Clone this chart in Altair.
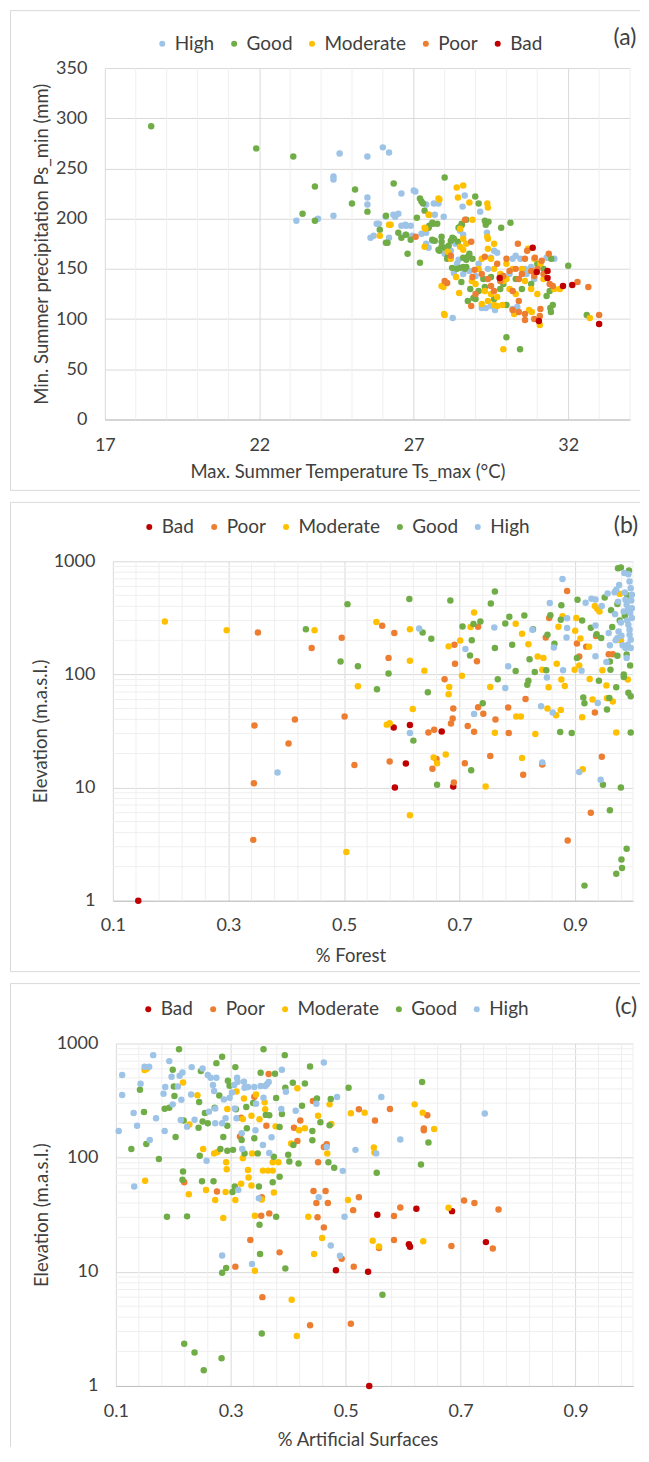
import altair as alt
import pandas as pd

# ---------------- data ----------------
A_ORDER = ["High", "Good", "Moderate", "Poor", "Bad"]
BC_ORDER = ["Bad", "Poor", "Moderate", "Good", "High"]
COLORS = {"High": "#9DC3E6", "Good": "#70AD47", "Moderate": "#FFC000",
          "Poor": "#ED7D31", "Bad": "#C00000"}

# panel (a): Ts_max (°C), Ps_min (mm)
A_HIGH = [(23.2,198),(23.9,200),(24.4,242),(24.4,239),(24.4,203),(24.6,265),(25.5,262),(25.5,221),(25.5,214),(25.6,181),(25.7,183),(25.8,195),(26.0,271),(26.2,266),(26.2,181),(26.6,225),(26.4,202),(26.5,205),(26.6,193),(26.75,193),(26.9,193),(27.0,228),(27.05,227),(28.65,223),(27.4,214),(27.65,215),(27.8,215),(28.58,212),(29.15,207),(27.68,204),(27.97,202),(26.09,202),(26.34,204),(25.87,195),(26.73,194),(28.5,188),(28.6,184),(29.37,186),(26.73,184),(26.95,183),(27.25,185),(27.4,186),(27.4,175),(27.48,171),(27.6,178),(28.0,165),(28.2,168),(28.35,175),(28.22,178),(28.45,159),(28.4,155),(28.3,146),(28.6,145),(28.8,148),(29.2,111),(29.33,111),(29.63,109),(29.5,113),(28.26,101),(31.55,160),(31.3,161),(30.3,163),(30.45,160),(30.2,160),(30.6,150),(30.65,145),(29.6,168),(29.7,166),(29.5,161),(29.4,150),(29.1,155),(29.0,143),(30.1,145),(30.9,140),(30.8,152),(30.2,110),(30.35,112)]
A_GOOD = [(18.5,292),(21.9,270),(23.1,262),(23.4,205),(23.8,232),(23.8,198),(25.0,215),(25.1,229),(25.5,207),(25.9,189),(26.1,203),(26.1,176),(26.35,235),(26.5,186),(26.6,181),(26.75,184),(26.8,165),(26.9,179),(27.1,201),(27.2,220),(27.25,217),(27.3,215),(27.2,156),(27.35,208),(27.5,193),(27.6,196),(27.6,179),(27.8,169),(27.9,172),(28.0,241),(28.1,162),(28.12,165),(28.2,178),(28.25,181),(28.5,192),(28.55,195),(28.6,152),(28.7,152),(28.0,171),(28.13,173),(28.3,180),(28.43,177),(28.45,191),(28.56,194),(28.7,199),(28.99,222),(29.1,215),(29.3,198),(29.33,194),(29.42,197),(29.83,191),(30.13,196),(26.15,176),(27.68,178),(27.9,182),(27.9,177),(27.76,195),(27.63,195),(27.48,191),(27.83,168),(28.75,162),(28.7,159),(28.6,161),(28.08,160),(28.24,151),(28.4,150),(28.5,151),(28.66,150),(28.54,137),(28.83,130),(28.75,118),(28.93,121),(30.0,114),(30.0,82),(30.44,70),(31.44,107),(31.42,111),(31.5,114),(32.0,153),(32.6,104),(29.9,135),(29.8,130),(29.5,142),(29.3,132),(29.1,128),(30.3,140),(30.5,130),(30.8,135),(31.0,155),(31.2,150),(31.4,128),(31.3,123),(31.45,160),(29.6,120),(29.0,120),(29.25,140),(28.9,160),(28.8,165)]
A_MOD = [(25.9,183),(26.2,194),(26.25,194),(27.35,191),(27.35,172),(27.5,204),(27.8,220),(27.9,133),(28.0,104),(28.39,231),(28.6,233),(28.43,221),(28.8,216),(29.38,215),(29.4,211),(27.48,204),(27.83,219),(27.38,190),(28.1,167),(28.2,160),(28.5,172),(28.6,169),(29.38,182),(29.4,180),(28.37,142),(27.96,132),(28.47,126),(28.88,138),(29.0,135),(29.6,114),(29.7,113),(29.87,114),(30.25,105),(30.73,109),(30.82,107),(31.08,94),(29.9,70),(27.98,105),(31.73,130),(32.7,101),(28.9,199),(29.4,170),(29.5,160),(29.2,160),(29.1,150),(29.6,150),(29.8,145),(29.9,138),(29.3,128),(29.5,125),(29.7,122),(29.4,118),(29.2,115),(30.0,140),(30.1,130),(30.3,125),(30.2,150),(30.5,150),(30.7,170),(30.9,160),(30.6,138),(30.8,130),(31.0,125),(31.2,140),(31.1,155),(28.7,175),(28.6,180),(28.5,190),(29.6,175),(30.0,155),(31.55,130)]
A_POOR = [(27.06,182),(28.66,199),(28.2,163),(28.86,177),(28.97,149),(28.0,138),(28.08,136),(28.86,113),(30.2,109),(30.4,107),(30.6,99),(31.08,103),(30.37,175),(30.67,168),(30.92,161),(31.14,158),(31.37,165),(32.3,137),(32.65,132),(33.0,104),(29.2,145),(29.4,140),(29.5,133),(29.6,128),(29.8,138),(29.9,143),(30.1,148),(30.3,150),(30.4,140),(30.5,145),(30.6,160),(30.8,148),(30.9,143),(31.0,150),(31.2,145),(31.4,135),(31.5,133),(29.3,162),(29.7,155),(30.0,160),(30.2,128),(30.4,118),(30.6,105),(30.9,100),(29.0,125),(28.9,142),(31.1,110)]
A_BAD = [(29.78,141),(30.85,171),(30.98,147),(31.33,148),(31.33,141),(31.83,133),(32.13,134),(31.05,98),(33.0,95)]

# panel (b): % Forest, Elevation (m.a.s.l.)
B_BAD = [(0.144,1.0),(0.586,34),(0.614,35.8),(0.669,31.3),(0.607,16.3),(0.588,10),(0.689,10.2)]
B_POOR = [(0.351,235),(0.444,171),(0.496,211),(0.566,269),(0.587,232),(0.577,140),(0.345,35.3),(0.415,39.9),(0.404,24.5),(0.344,10.9),(0.343,3.45),(0.501,42.5),(0.518,15.8),(0.579,17),(0.646,30.7),(0.656,32.4),(0.653,14.7),(0.66,17.9),(0.674,90.5),(0.685,36.8),(0.688,40.8),(0.689,50),(0.691,183),(0.692,124),(0.69,11.1),(0.709,16.4),(0.714,35),(0.725,31.1),(0.73,131),(0.732,264),(0.732,51.3),(0.741,45),(0.753,19),(0.762,40),(0.784,51),(0.785,30.3),(0.81,13),(0.814,60.7),(0.843,16),(0.849,212),(0.855,315),(0.886,545),(0.887,3.4),(0.903,188),(0.907,144),(0.919,176),(0.927,6.0),(0.934,46),(0.936,218),(0.946,18.7),(0.958,151),(0.965,151)]
B_MOD = [(0.19,294),(0.297,246),(0.449,246),(0.524,78.5),(0.504,2.7),(0.556,290),(0.574,36),(0.579,37),(0.614,251),(0.614,132),(0.614,5.7),(0.619,49.5),(0.639,108),(0.655,18.4),(0.661,16.4),(0.676,19.6),(0.681,177),(0.682,77.4),(0.681,66.8),(0.701,199),(0.704,97.3),(0.719,262),(0.725,352),(0.745,10.2),(0.753,77.4),(0.761,30.5),(0.797,281),(0.798,42.5),(0.806,42.5),(0.808,18.3),(0.808,229),(0.819,185),(0.831,29.7),(0.835,144),(0.845,140),(0.843,110),(0.852,49.9),(0.854,77),(0.867,43.6),(0.868,124),(0.871,264),(0.875,48.6),(0.876,90),(0.878,327),(0.882,79),(0.899,110),(0.9,243),(0.902,315),(0.907,120),(0.909,208),(0.912,41.9),(0.913,14.5),(0.924,176),(0.925,91),(0.934,403),(0.942,360),(0.947,109),(0.954,80),(0.955,61.6),(0.965,57.6),(0.971,30.7),(0.979,199),(0.991,90),(0.977,515),(0.938,380),(0.93,60)]
B_GOOD = [(0.434,251),(0.494,130),(0.506,418),(0.524,118),(0.557,74),(0.577,102),(0.613,463),(0.62,26),(0.636,235),(0.651,207),(0.645,69.5),(0.661,10.6),(0.684,450),(0.705,265),(0.718,147),(0.721,200),(0.72,14.2),(0.724,279),(0.736,294),(0.74,55.6),(0.754,424),(0.761,541),(0.761,171),(0.766,90.6),(0.779,282),(0.786,323),(0.791,183),(0.797,107),(0.812,332),(0.817,81),(0.819,88),(0.821,136),(0.83,105),(0.827,251),(0.85,109),(0.852,224),(0.857,334),(0.864,187),(0.874,31),(0.875,304),(0.876,409),(0.894,30.3),(0.903,140),(0.904,456),(0.912,300),(0.914,62.4),(0.916,55.6),(0.916,1.36),(0.927,258),(0.937,226),(0.941,88),(0.945,210),(0.948,10.6),(0.951,479),(0.955,49),(0.959,62),(0.96,6.3),(0.961,110),(0.964,262),(0.971,1.73),(0.971,77),(0.973,146),(0.974,867),(0.979,10),(0.979,879),(0.98,2.31),(0.981,1.95),(0.984,100),(0.989,2.88),(0.992,69),(0.996,30.7),(0.996,64),(0.989,150),(0.984,95),(0.993,830),(0.995,120),(0.973,420),(0.962,370),(0.977,300),(0.986,330),(0.96,130),(0.99,500)]
B_HIGH = [(0.385,13.6),(0.614,30.3),(0.63,255),(0.71,168),(0.725,44.8),(0.76,260),(0.779,76),(0.784,118),(0.826,248),(0.841,52.4),(0.843,16.7),(0.851,94),(0.856,427),(0.861,46),(0.863,173),(0.878,698),(0.879,109),(0.885,212),(0.886,313),(0.886,257),(0.907,13.7),(0.911,108),(0.918,430),(0.928,466),(0.935,460),(0.935,145),(0.935,271),(0.939,56),(0.944,11.7),(0.946,403),(0.954,129),(0.956,518),(0.958,232),(0.96,181),(0.968,533),(0.969,341),(0.971,560),(0.973,210),(0.974,440),(0.976,618),(0.979,288),(0.982,181),(0.984,360),(0.985,789),(0.986,530),(0.987,456),(0.989,412),(0.991,372),(0.992,275),(0.994,248),(0.994,224),(0.996,203),(0.991,183),(0.987,171),(0.994,662),(0.996,578),(0.998,505),(0.992,768),(0.998,385),(0.998,315),(0.996,171),(0.989,140),(0.97,200),(0.975,240),(0.98,220),(0.99,300),(0.995,350),(0.997,450)]

# panel (c): % Artificial Surfaces, Elevation (m.a.s.l.)
C_BAD = [(0.541,1.0),(0.483,10.3),(0.539,10),(0.555,31.6),(0.623,35.7),(0.61,17.4),(0.612,16.6),(0.685,34),(0.744,18.2)]
C_POOR = [(0.219,61),(0.276,50.6),(0.308,11.1),(0.334,19),(0.318,224),(0.316,153),(0.341,342),(0.353,31),(0.367,32.5),(0.355,6.0),(0.354,45),(0.362,190),(0.366,540),(0.385,14.8),(0.41,183),(0.416,140),(0.421,212),(0.438,3.4),(0.443,313),(0.444,51),(0.449,40),(0.451,30),(0.452,91),(0.462,24.5),(0.462,124),(0.465,51),(0.467,131),(0.469,40),(0.493,13),(0.509,3.5),(0.513,34.7),(0.514,11.1),(0.523,45),(0.523,265),(0.551,212),(0.558,16.2),(0.577,267),(0.584,30.8),(0.584,19),(0.595,36.6),(0.636,174),(0.642,235),(0.684,16.8),(0.706,42.2),(0.724,40),(0.756,16),(0.766,35.2),(0.636,180)]
C_MOD = [(0.15,585),(0.154,600),(0.151,62.7),(0.217,456),(0.228,195),(0.227,47.9),(0.242,353),(0.252,119),(0.257,52),(0.271,109),(0.273,42.5),(0.277,112),(0.287,29.6),(0.292,91),(0.293,79),(0.291,50),(0.294,267),(0.308,42.5),(0.318,59),(0.321,99),(0.323,330),(0.321,218),(0.33,78),(0.331,67),(0.336,57),(0.337,109),(0.336,233),(0.342,31),(0.342,10.2),(0.344,358),(0.35,217),(0.354,43),(0.356,77),(0.359,305),(0.365,77),(0.373,77),(0.375,49.5),(0.373,91),(0.383,91),(0.378,188),(0.405,133),(0.406,5.7),(0.415,2.74),(0.416,405),(0.419,174),(0.429,181),(0.435,30.3),(0.445,14.3),(0.452,233),(0.459,19.8),(0.468,109),(0.472,293),(0.475,197),(0.504,42.5),(0.509,245),(0.533,248),(0.549,123),(0.55,111),(0.547,18.7),(0.558,16.7),(0.62,293),(0.634,248),(0.635,18.5),(0.654,178),(0.679,36.4),(0.36,265),(0.31,380)]
C_GOOD = [(0.127,119),(0.142,393),(0.149,251),(0.153,132),(0.175,97.5),(0.189,30.3),(0.185,268),(0.193,274),(0.199,589),(0.201,421),(0.202,347),(0.204,152),(0.21,892),(0.218,212),(0.217,75.5),(0.216,64),(0.224,30.6),(0.219,2.34),(0.237,1.96),(0.244,183),(0.245,307),(0.246,104),(0.248,573),(0.25,62),(0.251,207),(0.253,1.37),(0.255,246),(0.27,62),(0.272,274),(0.275,673),(0.282,119),(0.285,9.8),(0.284,1.75),(0.285,764),(0.287,152),(0.292,10.8),(0.294,190),(0.294,115),(0.295,472),(0.298,427),(0.304,117),(0.303,50),(0.307,56),(0.308,621),(0.309,265),(0.319,143),(0.324,109),(0.327,278),(0.328,181),(0.339,301),(0.341,148),(0.347,109),(0.349,56),(0.35,25.8),(0.351,14.3),(0.354,2.88),(0.352,555),(0.357,892),(0.361,237),(0.367,235),(0.373,61),(0.375,102),(0.377,543),(0.379,333),(0.385,186),(0.385,68),(0.379,30.3),(0.389,241),(0.394,791),(0.395,410),(0.395,10.7),(0.4,106),(0.402,92.5),(0.408,453),(0.409,129),(0.418,89),(0.424,285),(0.429,447),(0.438,629),(0.442,171),(0.442,142),(0.45,330),(0.456,204),(0.47,91),(0.472,192),(0.474,327),(0.48,81.5),(0.505,410),(0.554,73.6),(0.564,6.3),(0.631,87),(0.633,459),(0.644,136),(0.26,200),(0.28,350)]
C_HIGH = [(0.105,171),(0.111,529),(0.111,354),(0.131,246),(0.132,56),(0.137,190),(0.143,444),(0.15,625),(0.158,625),(0.159,143),(0.165,791),(0.17,221),(0.183,363),(0.185,171),(0.186,415),(0.193,701),(0.197,512),(0.199,293),(0.208,421),(0.211,521),(0.214,322),(0.213,214),(0.216,558),(0.224,187),(0.231,358),(0.232,621),(0.237,215),(0.251,605),(0.258,94),(0.26,529),(0.262,253),(0.265,501),(0.269,433),(0.271,383),(0.273,270),(0.273,200),(0.275,501),(0.285,200),(0.285,13.9),(0.288,324),(0.291,221),(0.298,335),(0.302,373),(0.306,433),(0.311,501),(0.307,270),(0.31,221),(0.312,462),(0.313,52),(0.319,164),(0.32,119),(0.323,462),(0.324,410),(0.33,415),(0.337,11.7),(0.341,415),(0.343,174),(0.344,297),(0.349,44),(0.352,425),(0.356,129),(0.357,335),(0.36,425),(0.363,440),(0.366,460),(0.367,110),(0.371,151),(0.388,267),(0.389,589),(0.396,378),(0.413,258),(0.449,297),(0.453,45),(0.462,682),(0.467,124),(0.474,17),(0.485,340),(0.49,13.8),(0.495,76.6),(0.498,30.3),(0.517,117),(0.553,109),(0.562,340),(0.595,144),(0.742,244)]

# axis ticks / grid lines
A_X_TICKS = [17, 22, 27, 32]
A_X_MINOR = [18, 19, 20, 21, 23, 24, 25, 26, 28, 29, 30, 31, 33, 34]
A_Y_TICKS = [0, 50, 100, 150, 200, 250, 300, 350]
BC_X_TICKS = [0.1, 0.3, 0.5, 0.7, 0.9]
BC_X_MINOR = [0.14, 0.18, 0.22, 0.26, 0.34, 0.38, 0.42, 0.46, 0.54, 0.58, 0.62,
              0.66, 0.74, 0.78, 0.82, 0.86, 0.94, 0.98, 1.0]
LOG_TICKS = [1, 10, 100, 1000]
LOG_MINOR = [2, 3, 4, 5, 6, 7, 8, 9, 20, 30, 40, 50, 60, 70, 80, 90,
             200, 300, 400, 500, 600, 700, 800, 900]

FONT = "Lato"
TXT = "#404040"
GRID = "#d9d9d9"
GRID_MINOR = "#efefef"
FRAME = "#d9d9d9"
FS = 18
TFS = 18.5


def make_df(series, order):
    rows = []
    for name in order:
        for x, y in series[name]:
            rows.append({"x": x, "y": y, "cls": name})
    return pd.DataFrame(rows)


ONE = pd.DataFrame({"k": [0]})


def panel(df, order, W, H, xdom, xticks, xminor, xfmt, xtitle, xtitleX,
          ytype, ydom, yticks, yminor, yfmt, ytitle, legx, legy,
          label, labx, laby, frame, xlp, xtp, ytp):
    L, T, B, R, draw_bottom = frame
    xscale = alt.Scale(domain=xdom, nice=False, zero=False)
    if ytype == "log":
        yscale = alt.Scale(type="log", domain=ydom, nice=False)
    else:
        yscale = alt.Scale(domain=ydom, nice=False, zero=True)
    xaxis = alt.Axis(
        values=xticks, format=xfmt, grid=True, gridColor=GRID, ticks=False,
        domain=True, domainColor="#bfbfbf", labelFlush=False, labelOverlap=False,
        labelPadding=xlp, labelFontSize=FS, labelFont=FONT, labelColor=TXT,
        title=xtitle, titleFont=FONT, titleFontSize=TFS, titleFontWeight="normal",
        titleColor=TXT, titlePadding=xtp, titleX=xtitleX)
    yaxis = alt.Axis(
        values=yticks, format=yfmt, grid=True, gridColor=GRID, ticks=False,
        domain=False, labelFlush=False, labelOverlap=False, labelPadding=18,
        labelFontSize=FS, labelFont=FONT, labelColor=TXT,
        title=ytitle, titleFont=FONT, titleFontSize=TFS, titleFontWeight="normal",
        titleColor=TXT, titlePadding=ytp)
    layers = []
    # panel frame
    layers.append(alt.Chart(ONE).mark_rule(color=FRAME, strokeWidth=1).encode(
        x=alt.value(L), x2=alt.value(R), y=alt.value(T)))
    layers.append(alt.Chart(ONE).mark_rule(color=FRAME, strokeWidth=1).encode(
        x=alt.value(L), y=alt.value(T), y2=alt.value(B)))
    if draw_bottom:
        layers.append(alt.Chart(ONE).mark_rule(color=FRAME, strokeWidth=1).encode(
            x=alt.value(L), x2=alt.value(R), y=alt.value(B)))
    # minor grid lines
    layers.append(alt.Chart(pd.DataFrame({"x": xminor})).mark_rule(
        color=GRID_MINOR, strokeWidth=1).encode(
        x=alt.X("x:Q", scale=xscale, axis=xaxis)))
    if yminor:
        layers.append(alt.Chart(pd.DataFrame({"y": yminor})).mark_rule(
            color=GRID_MINOR, strokeWidth=1).encode(
            y=alt.Y("y:Q", scale=yscale, axis=yaxis)))
    pts = alt.Chart(df).mark_circle(size=42, opacity=1).encode(
        x=alt.X("x:Q", scale=xscale, axis=xaxis),
        y=alt.Y("y:Q", scale=yscale, axis=yaxis),
        color=alt.Color("cls:N", scale=alt.Scale(domain=order, range=[COLORS[c] for c in order]),
                        legend=alt.Legend(orient="none", legendX=legx, legendY=legy,
                                          direction="horizontal", title=None,
                                          labelFontSize=19, labelFont=FONT, labelColor=TXT,
                                          symbolType="circle", symbolSize=36,
                                          labelOffset=3, columnPadding=10, padding=0)),
    )
    layers.append(pts)
    layers.append(alt.Chart(ONE).mark_text(text=label, font=FONT, fontSize=23, color=TXT,
                                           align="center", baseline="middle").encode(
        x=alt.value(labx), y=alt.value(laby)))
    inner = alt.layer(*layers).properties(width=W, height=H)
    spacer = alt.Chart(ONE).mark_point(opacity=0, size=1).encode(
        x=alt.value(0.5), y=alt.value(0.5)).properties(width=1, height=1)
    return alt.hconcat(spacer, inner, spacing=0).resolve_scale(color="independent")


dfa = make_df({"High": A_HIGH, "Good": A_GOOD, "Moderate": A_MOD, "Poor": A_POOR, "Bad": A_BAD}, A_ORDER)
dfb = make_df({"High": B_HIGH, "Good": B_GOOD, "Moderate": B_MOD, "Poor": B_POOR, "Bad": B_BAD}, BC_ORDER)
dfc = make_df({"High": C_HIGH, "Good": C_GOOD, "Moderate": C_MOD, "Poor": C_POOR, "Bad": C_BAD}, BC_ORDER)

pa = panel(dfa, A_ORDER, 526, 352, [17, 34], A_X_TICKS, A_X_MINOR, "d",
           "Max. Summer Temperature Ts_max (°C)", 243,
           "linear", [0, 350], A_Y_TICKS, None, "d", "Min. Summer precipitation Ps_min (mm)",
           48, -34, "(a)", 521, -30, (-94.5, -57.5, 423, 536, True), 17, 8, 4)
pb = panel(dfb, BC_ORDER, 521, 340, [0.1, 1.0], BC_X_TICKS, BC_X_MINOR, ".1f",
           "% Forest", 238,
           "log", [1, 1000], LOG_TICKS, LOG_MINOR, "d", "Elevation (m.a.s.l.)",
           27, -44, "(b)", 514, -35, (-102.5, -59, 411, 528, True), 16, 12, 3)
pc = panel(dfc, BC_ORDER, 518, 343, [0.1, 1.0], BC_X_TICKS, BC_X_MINOR, ".1f",
           "% Artificial Surfaces", 242,
           "log", [1, 1000], LOG_TICKS, LOG_MINOR, "d", "Elevation (m.a.s.l.)",
           23, -44, "(c)", 511, -37, (-105.5, -60, 404, 525, False), 17, 10, 5)

chart = alt.vconcat(pa, pb, pc, spacing=10).resolve_scale(
    color="independent").properties(
    padding={"left": 1, "top": 1, "right": 0, "bottom": 0}
).configure(font=FONT).configure_view(stroke=None)

chart.save("out.html", embed_options={"renderer": "svg", "actions": False})
